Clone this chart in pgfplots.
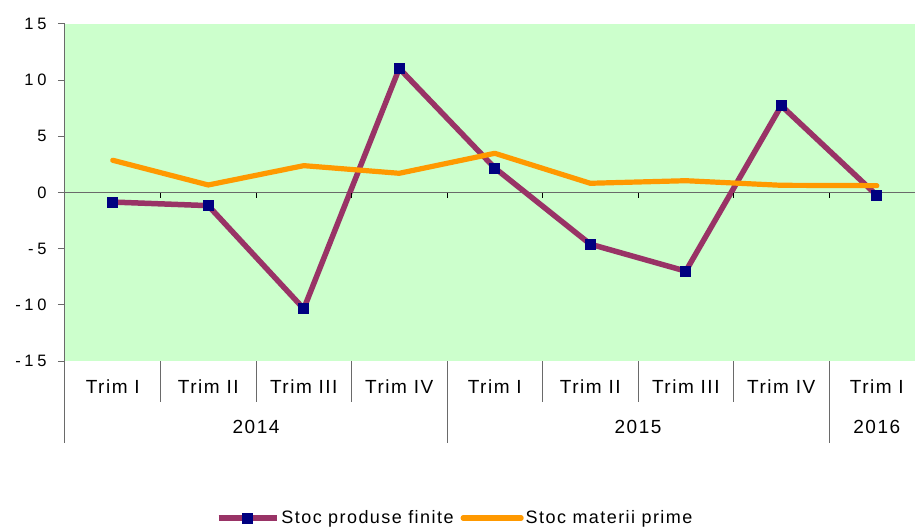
\documentclass[border=0pt]{standalone}
\usepackage{pgfplots}
\pgfplotsset{compat=1.18}
\usepackage{fontspec}
\setmainfont{Liberation Sans}[LetterSpace=8]
\newfontfamily\tickfont{Liberation Sans}[LetterSpace=22]
\definecolor{bggreen}{HTML}{CCFFCC}
\definecolor{plum}{HTML}{993366}
\definecolor{navyblue}{HTML}{000080}
\definecolor{amber}{HTML}{FF9900}
\definecolor{axgray}{HTML}{6A6A6A}

\begin{document}
\begin{tikzpicture}
\path[use as bounding box] (-65pt,-166pt) rectangle (850pt,361pt);
\begin{axis}[
    anchor=south west, at={(0,0)},
    scale only axis, width=850pt, height=337pt,
    clip=false,
    xmin=-0.5, xmax=8.4, ymin=-15, ymax=15,
    axis background/.style={fill=bggreen},
    axis y line*=left, axis x line*=bottom,
    x axis line style={draw=none},
    y axis line style={axgray, line width=1pt},
    xtick={0,...,8},
    xticklabels={Trim I,Trim II,Trim III,Trim IV,Trim I,Trim II,Trim III,Trim IV,Trim I},
    major x tick style={draw=none},
    xticklabel style={font=\fontsize{19}{21}\selectfont, yshift=-8pt},
    ytick={-15,-10,...,15},
    yticklabels={-15,-10,-5,0,5,10,15},
    yticklabel style={font=\tickfont\fontsize{16.5}{18}\selectfont, xshift=-8pt},
    tick align=outside, major tick length=7pt,
    ytick style={axgray, line width=1pt},
    extra y ticks={0}, extra y tick labels={},
    extra y tick style={grid=major, major grid style={axgray, line width=1.2pt}, major tick length=0pt},
    legend style={at={(0.459,-0.466)}, anchor=center, draw=none, fill=none,
        font=\fontsize{18}{21}\selectfont, legend columns=2,
        /tikz/every even column/.append style={column sep=5pt}},
    legend image code/.code={\draw[mark repeat=2,mark phase=2] plot coordinates {(0pt,0pt)(29pt,0pt)(58pt,0pt)};},
]
\addplot[plum, line width=5.5pt, mark=square*, mark size=5pt,
    mark options={fill=navyblue, draw=navyblue, line width=0pt}]
    coordinates {(0,-0.85) (1,-1.17) (2,-10.35) (3,11.05) (4,2.18) (5,-4.6) (6,-7.0) (7,7.73) (8,-0.25)};
\addlegendentry{Stoc produse finite}
\addplot[amber, line width=5.2pt, line join=round, line cap=round]
    coordinates {(0,2.87) (1,0.67) (2,2.39) (3,1.71) (4,3.49) (5,0.82) (6,1.05) (7,0.64) (8,0.61)};
\addlegendentry{Stoc materii prime}
\pgfplotsinvokeforeach{0.5,1.5,2.5,3.5,4.5,5.5,6.5,7.5}{
    \draw[black, line width=1pt] (axis cs:#1,0) -- ([yshift=-5pt]axis cs:#1,0);
}
\pgfplotsinvokeforeach{0.5,1.5,2.5,4.5,5.5,6.5}{
    \draw[axgray, line width=1pt] (axis cs:#1,-15) -- ([yshift=-41pt]axis cs:#1,-15);
}
\pgfplotsinvokeforeach{-0.5,3.5,7.5}{
    \draw[axgray, line width=1pt] (axis cs:#1,-15) -- ([yshift=-82pt]axis cs:#1,-15);
}
\node[font=\fontsize{19}{21}\selectfont] at ([yshift=-66pt]axis cs:1.5,-15) {2014};
\node[font=\fontsize{19}{21}\selectfont] at ([yshift=-66pt]axis cs:5.5,-15) {2015};
\node[font=\fontsize{19}{21}\selectfont] at ([yshift=-66pt]axis cs:8,-15) {2016};
\end{axis}
\end{tikzpicture}
\end{document}
